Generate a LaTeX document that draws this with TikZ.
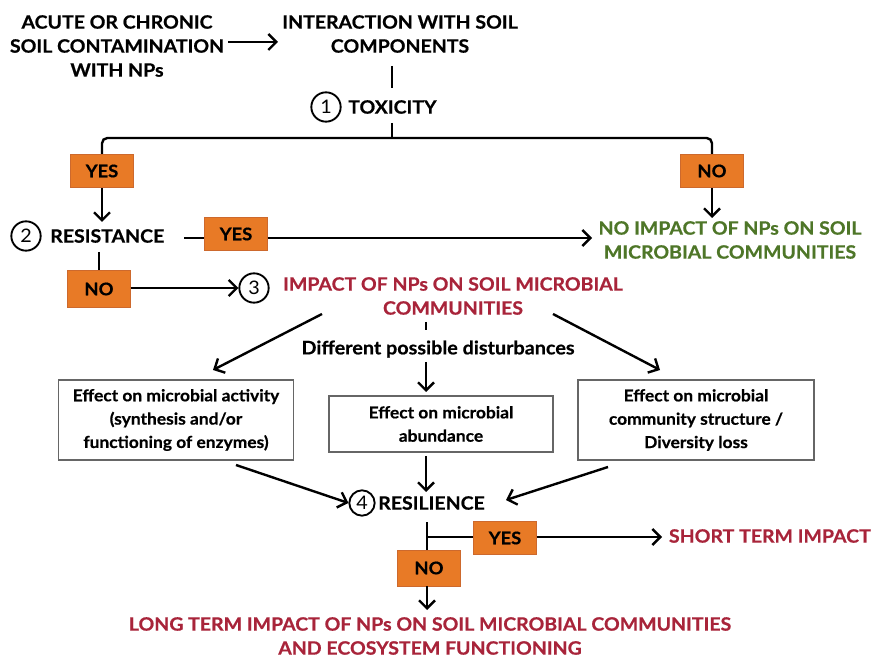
\documentclass[tikz,border=0pt]{standalone}
\usepackage{fontspec}
\setmainfont{Lato}[FakeStretch=1.06, BoldFeatures={FakeBold=0.6}]
\usetikzlibrary{arrows.meta}
\definecolor{boxorange}{RGB}{232,122,38}
\definecolor{boxedge}{RGB}{205,105,45}
\definecolor{darkred}{RGB}{168,36,58}
\definecolor{darkgreen}{RGB}{78,118,40}
\tikzset{
  big/.style={font=\bfseries\fontsize{13.8}{18}\selectfont, align=center, inner sep=0pt},
  mid/.style={font=\bfseries\fontsize{14}{17}\selectfont, align=center, inner sep=0pt},
  small/.style={font=\bfseries\fontsize{12.3}{17.5}\selectfont, align=center, inner sep=0pt},
  yn/.style={draw=boxedge, line width=0.6pt, fill=boxorange, font=\bfseries\fontsize{13}{16}\selectfont, minimum width=47pt, minimum height=25pt, inner sep=0pt},
  num/.style={circle, draw, line width=1.4pt, minimum size=22pt, inner sep=0pt, font=\fontsize{14}{16}\selectfont},
  effbox/.style={draw=black!60, line width=0.8pt, small, minimum width=176pt},
  ln/.style={line width=1.8pt},
  arr/.style={ln, -{Straight Barb[length=6pt,width=12pt,line width=1.8pt]}},
}
\begin{document}
\begin{tikzpicture}[x=0.75pt,y=-0.75pt]
\useasboundingbox (0,0) rectangle (872,659);

% top
\node[big] (src) at (117,46) {ACUTE OR CHRONIC\\SOIL CONTAMINATION\\WITH NPs};
\node[big] (inter) at (400,34) {INTERACTION WITH SOIL\\COMPONENTS};
\coordinate (a1) at (228,42);
\coordinate (a2) at (278,42);
\draw[arr] (a1) -- (a2);

\node[num] (c1) at (326,107) {1};
\node[big, anchor=west] (tox) at (348,107) {TOXICITY};
\coordinate (t1) at (392,66);
\coordinate (t2) at (392,88);
\draw[ln] (t1) -- (t2);
\coordinate (t3) at (392,123);
\coordinate (bj) at (392,138);
\draw[ln] (t3) -- (bj);

% branch
\node[yn] (yes1) at (102,171) {YES};
\node[yn] (no1) at (712,171) {NO};
\draw[ln, rounded corners=4pt] (yes1.north) |- (bj) -| (no1.north);

\node[num] (c2) at (26,236) {2};
\node[big, anchor=west] (res) at (50,236) {RESISTANCE};
\draw[arr] (yes1.south) -- (102,222);

\node[big, text=darkgreen] (noimp) at (730,240) {NO IMPACT OF NPs ON SOIL\\MICROBIAL COMMUNITIES};
\draw[arr] (no1.south) -- (712,218);

\node[yn] (yes2) at (236,234) {YES};
\coordinate (r1) at (184,238);
\draw[ln] (r1) -- (yes2.west |- r1);
\coordinate (r2) at (592,238);
\draw[arr] (yes2.east |- r2) -- (r2);

\node[yn, minimum height=28pt] (no2) at (99,289) {NO};
\coordinate (r3) at (99,252);
\draw[ln] (r3) -- (no2.north);

\node[num] (c3) at (254,288) {3};
\draw[arr] (no2.east |- c3) -- (c3.west);
\node[big, text=darkred] (imp) at (453,296) {IMPACT OF NPs ON SOIL MICROBIAL\\COMMUNITIES};

% disturbances
\coordinate (k1) at (426,322);
\coordinate (k2) at (426,330);
\draw[line width=2pt] (k1) -- (k2);
\node[mid] (dist) at (438,349) {Different possible disturbances};

\node[effbox, minimum width=176pt, minimum height=60pt] (e1) at (176,420) {Effect on microbial activity\\(synthesis and/or\\functioning of enzymes)};
\node[effbox, minimum width=168pt, minimum height=42pt] (e2) at (441,424) {Effect on microbial\\abundance};
\node[effbox, minimum width=177pt, minimum height=60pt] (e3) at (696,420) {Effect on microbial\\community structure /\\Diversity loss};

\coordinate (d1) at (322,314);
\coordinate (d1e) at (213,370);
\draw[arr] (d1) -- (d1e);
\coordinate (d3) at (553,314);
\coordinate (d3e) at (660,370);
\draw[arr] (d3) -- (d3e);
\coordinate (d2) at (426,362);
\coordinate (d2e) at (426,392);
\draw[arr] (d2) -- (d2e);

% resilience
\node[num, minimum size=19pt] (c4) at (362,503) {4};
\node[big, anchor=west] (resil) at (378,503) {RESILIENCE};
\coordinate (f2) at (426,456);
\coordinate (f2e) at (426,492);
\draw[arr] (f2) -- (f2e);
\coordinate (f1) at (236,465);
\draw[arr] (f1) -- (c4.west);
\coordinate (f3) at (608,467);
\coordinate (f3e) at (506,500);
\draw[arr] (f3) -- (f3e);

\node[yn] (yes3) at (505,538) {YES};
\node[yn, minimum height=27pt] (no3) at (429,568) {NO};
\node[big, text=darkred, anchor=east] (short) at (871,536) {SHORT TERM IMPACT};
\coordinate (g1) at (427,522);
\coordinate (g2) at (427,537);
\draw[ln] (g1) -- (no3.north -| g1);
\draw[ln] (g2) -- (yes3.west |- g2);
\coordinate (g3) at (662,537);
\draw[arr] (yes3.east |- g3) -- (g3);

\node[big, text=darkred] (long) at (430,636) {LONG TERM IMPACT OF NPs ON SOIL MICROBIAL COMMUNITIES\\AND ECOSYSTEM FUNCTIONING};
\coordinate (g4) at (427,610);
\draw[arr] (no3.south -| g4) -- (g4);
\end{tikzpicture}
\end{document}
